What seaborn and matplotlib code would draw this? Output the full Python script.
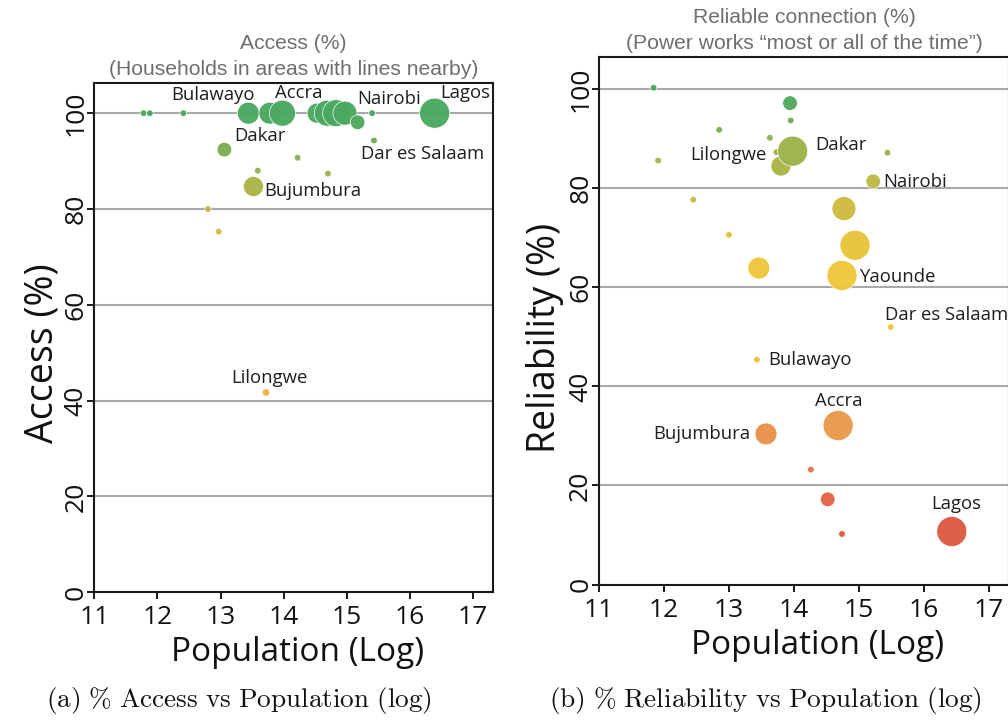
import matplotlib
matplotlib.use("Agg")
import matplotlib.pyplot as plt
from matplotlib import font_manager
from matplotlib.colors import LinearSegmentedColormap
import numpy as np
import pandas as pd
import seaborn as sns

# ---------------- data ----------------
# Panel (a): access (%) vs log population
access_pop = [11.78, 11.88, 12.41, 13.44, 13.78, 13.98, 14.53, 14.69, 14.83, 14.97,
              15.17, 15.40, 16.39, 13.06, 15.43, 14.22, 13.59, 14.70, 13.52, 12.80,
              12.97, 13.72]
access_pct = [100, 100, 100, 100, 100, 100, 100, 100, 100, 100,
              98.1, 100, 100, 92.4, 94.3, 90.7, 88.0, 87.4, 84.7, 80.0,
              75.3, 41.7]
access_weight = [1, 1, 1, 11, 11, 15.5, 9.2, 15.5, 16.7, 13.2,
                 4.9, 1, 20.7, 4.9, 1, 1, 1, 1, 9.2, 1,
                 1, 1.25]
access_city = ["", "", "Bulawayo", "", "", "Accra", "", "", "", "",
               "", "Nairobi", "Lagos", "Dakar", "Dar es Salaam", "", "", "", "Bujumbura", "",
               "", "Lilongwe"]

# Panel (b): reliability (%) vs log population
rel_pop = [11.84, 13.94, 13.95, 12.85, 13.63, 13.73, 13.80, 13.98, 11.91, 15.44,
           15.22, 12.45, 14.77, 13.00, 14.94, 13.46, 14.74, 15.49, 13.43, 14.68,
           13.57, 14.26, 14.52, 14.74, 16.43]
rel_pct = [100.3, 97.2, 93.7, 91.8, 90.2, 87.3, 84.5, 87.5, 85.6, 87.2,
           81.4, 77.7, 75.9, 70.6, 68.5, 63.9, 62.4, 52.0, 45.4, 32.1,
           30.4, 23.2, 17.2, 10.2, 10.7]
rel_weight = [1, 4.9, 1, 1, 1, 1, 9.2, 20.7, 1, 1,
              4.9, 1, 13.2, 1, 20.7, 11, 20.7, 1, 1, 20.7,
              11, 1, 4.9, 1, 20.7]
rel_city = ["", "", "", "", "", "Lilongwe", "", "Dakar", "", "",
            "Nairobi", "", "", "", "", "", "Yaounde", "Dar es Salaam", "Bulawayo", "Accra",
            "Bujumbura", "", "", "", "Lagos"]

# ---------------- styles ----------------
# label offsets in pixels (dx, dy up) and horizontal alignment
access_label_style = {
    "Bulawayo": (30, 18, "center"), "Accra": (16, 20, "center"),
    "Nairobi": (17, 14, "center"), "Lagos": (31, 20, "center"),
    "Dakar": (36, 14, "center"), "Dar es Salaam": (49, -14, "center"),
    "Bujumbura": (59, -5, "center"), "Lilongwe": (3, 15, "center"),
}
rel_label_style = {
    "Lilongwe": (-48, -3, "center"), "Dakar": (48, 6, "center"),
    "Nairobi": (42, -1, "center"), "Yaounde": (55, -2, "center"),
    "Dar es Salaam": (-6, 12, "left"), "Bulawayo": (53, 0, "center"),
    "Accra": (1, 25, "center"), "Bujumbura": (-64, 0, "center"),
    "Lagos": (4, 28, "center"),
}

cmap = LinearSegmentedColormap.from_list("rel", [
    (0.00, "#d9503e"), (0.10, "#dd5a42"), (0.17, "#e06545"), (0.23, "#e37449"),
    (0.31, "#e9974b"), (0.41, "#f1ac40"), (0.46, "#f2c03b"), (0.62, "#f0c83c"),
    (0.70, "#e6c33b"), (0.76, "#d0ba42"), (0.81, "#c0ba46"), (0.85, "#aab548"),
    (0.88, "#9ab34a"), (0.92, "#80b050"), (0.97, "#55ab5a"), (1.00, "#4aa861"),
])

sns.set_style("white")
names = {f.name for f in font_manager.fontManager.ttflist}
main_font = "Open Sans" if "Open Sans" in names else "DejaVu Sans"
title_font = "Liberation Sans Narrow" if "Liberation Sans Narrow" in names else "Liberation Sans"
plt.rcParams["font.family"] = [main_font, "DejaVu Sans"]

W, H = 1008, 723
fig = plt.figure(figsize=(W / 100, H / 100), dpi=100)

ax1 = fig.add_axes([94.3 / W, 1 - 592.3 / H, 398.4 / W, 509.3 / H])
ax2 = fig.add_axes([599 / W, 1 - 584.5 / H, 410 / W, 527.2 / H])

df1 = pd.DataFrame({"pop": access_pop, "pct": access_pct, "w": access_weight, "city": access_city})
df2 = pd.DataFrame({"pop": rel_pop, "pct": rel_pct, "w": rel_weight, "city": rel_city})


def draw(ax, df, label_style, ylabel, ylab_xy, xlab_xy, title, ylim_top):
    ax.set_axisbelow(True)
    ax.yaxis.grid(True, color="#a9a9a9", lw=1.5)
    ax.xaxis.grid(False)
    sns.scatterplot(data=df, x="pop", y="pct", hue="pct", palette=cmap, hue_norm=(0, 100),
                    size="w", sizes=(22.6, 468), size_norm=(1, 20.7), legend=False,
                    edgecolor="white", linewidth=0.5, alpha=0.97, ax=ax, zorder=3)
    for _, r in df.iterrows():
        if r["city"]:
            dx, dy, ha = label_style[r["city"]]
            ax.annotate(r["city"], xy=(r["pop"], r["pct"]), xytext=(dx, dy),
                        textcoords="offset pixels", ha=ha, va="center",
                        fontsize=13.3, color="#1e1e1e", zorder=4)
    ax.set_xlim(11, 17.31)
    ax.set_ylim(0, ylim_top)
    ax.set_xticks([11, 12, 13, 14, 15, 16, 17])
    ax.set_yticks([0, 20, 40, 60, 80, 100])
    for s in ax.spines.values():
        s.set_visible(True)
        s.set_color("#1a1a1a")
        s.set_linewidth(1.5)
    ax.tick_params(axis="both", which="major", direction="out", length=5, width=1.4,
                   color="#1a1a1a", labelsize=19, labelcolor="#111111", pad=4.5,
                   bottom=True, left=True)
    ax.tick_params(axis="y", labelrotation=90, pad=-0.8)
    for t in ax.get_yticklabels():
        t.set_va("center")
    ax.set_xlabel("Population (Log)", fontsize=24, color="#111111", va="center")
    ax.set_ylabel(ylabel, fontsize=27, color="#111111", va="center")
    ax.xaxis.set_label_coords(*xlab_xy)
    ax.yaxis.set_label_coords(*ylab_xy)
    ax.set_title(title, fontsize=15.2, color="#6e6e6e", family=[title_font, "DejaVu Sans"],
                 linespacing=1.45, pad=6)


draw(ax1, df1, access_label_style, "Access (%)", (-0.131, 0.47), (0.511, -0.118),
     "Access (%)\n(Households in areas with lines nearby)", 106.3)
draw(ax2, df2, rel_label_style, "Reliability (%)", (-0.132, 0.4685), (0.532, -0.116),
     "Reliable connection (%)\n(Power works \u201cmost or all of the time\u201d)", 106.45)

fig.text(239 / W, 1 - 701 / H, r"$\mathrm{(a)\ \%\ Access\ vs\ Population\ (log)}$",
         ha="center", va="center", fontsize=19.6, math_fontfamily="cm", color="#111111")
fig.text(765 / W, 1 - 701 / H, r"$\mathrm{(b)\ \%\ Reliability\ vs\ Population\ (log)}$",
         ha="center", va="center", fontsize=19.6, math_fontfamily="cm", color="#111111")

fig.savefig("out.png", dpi=100)
